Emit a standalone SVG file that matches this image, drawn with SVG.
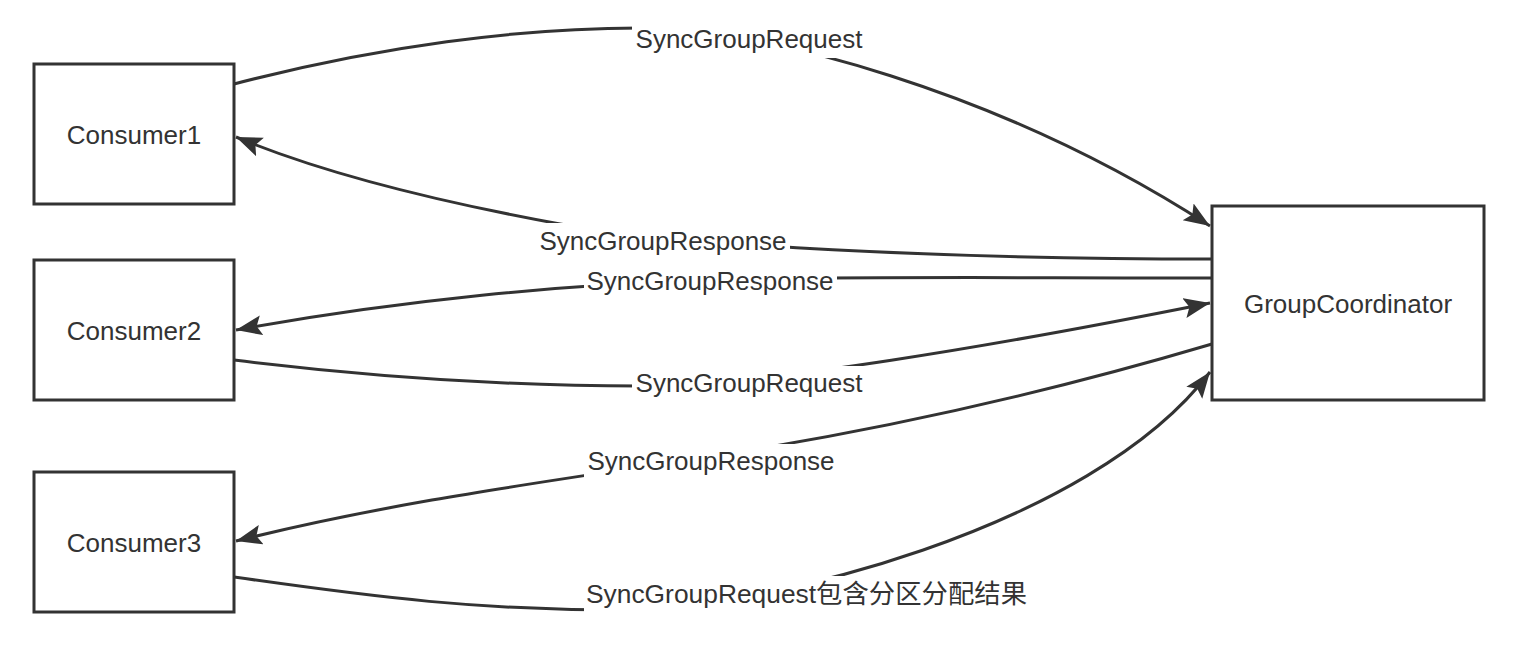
<svg xmlns="http://www.w3.org/2000/svg" width="1516" height="654" viewBox="0 0 1516 654">
  <defs>
    <style>
      .box { fill: #ffffff; stroke: #333333; stroke-width: 3; }
      .txt { font-family: "Liberation Sans", "Noto Sans CJK SC", sans-serif; font-size: 26px; fill: #333333; }
      .edge { fill: none; stroke: #333333; stroke-width: 3; marker-end: url(#arrow); }
      .lblbg { fill: #ffffff; stroke: none; }
    </style>
    <marker id="arrow" markerUnits="userSpaceOnUse" markerWidth="28" markerHeight="22" refX="26" refY="10" orient="auto">
      <path d="M0,0 L26,10 L0,20 L5,10 Z" fill="#333333"/>
    </marker>
  </defs>
  <rect width="1516" height="654" fill="#ffffff"/>

  <g id="connectors">
    <!-- Consumer1 -> GroupCoordinator -->
    <path class="edge" d="M234,84 C380,46 520,28 640,28 S1000,90 1210,226"/>
    <!-- GroupCoordinator -> Consumer1 -->
    <path class="edge" d="M1212,259 C950,259 680,246 560,224 S320,172 236,137"/>
    <!-- GroupCoordinator -> Consumer2 -->
    <path class="edge" d="M1212,278 C1000,278 850,276 710,280 S400,300 236,330"/>
    <!-- Consumer2 -> GroupCoordinator -->
    <path class="edge" d="M234,360 C380,378 520,386 640,386 S1000,345 1210,303"/>
    <!-- GroupCoordinator -> Consumer3 -->
    <path class="edge" d="M1212,344 C1050,392 880,430 720,455 S400,500 236,541"/>
    <!-- Consumer3 -> GroupCoordinator -->
    <path class="edge" d="M234,577 C380,598 480,610 620,610 S1090,530 1210,372"/>

    <g id="label1">
      <rect class="lblbg" x="632" y="24" width="234" height="34"/>
      <text class="txt" x="749" y="48" text-anchor="middle">SyncGroupRequest</text>
    </g>
    <g id="label2">
      <rect class="lblbg" x="538" y="223" width="252" height="35"/>
      <text class="txt" x="663" y="250" text-anchor="middle">SyncGroupResponse</text>
    </g>
    <g id="label3">
      <rect class="lblbg" x="584" y="264" width="253" height="34"/>
      <text class="txt" x="710" y="290" text-anchor="middle">SyncGroupResponse</text>
    </g>
    <g id="label4">
      <rect class="lblbg" x="632" y="366" width="234" height="34"/>
      <text class="txt" x="749" y="392" text-anchor="middle">SyncGroupRequest</text>
    </g>
    <g id="label5">
      <rect class="lblbg" x="584" y="444" width="254" height="34"/>
      <text class="txt" x="711" y="470" text-anchor="middle">SyncGroupResponse</text>
    </g>
    <g id="label6">
      <rect class="lblbg" x="584" y="576" width="446" height="36"/>
      <text class="txt" x="586" y="603" textLength="441" lengthAdjust="spacingAndGlyphs">SyncGroupRequest包含分区分配结果</text>
    </g>
  </g>

  <g id="consumer1">
    <rect class="box" x="34" y="64" width="200" height="140"/>
    <text class="txt" x="134" y="144" text-anchor="middle">Consumer1</text>
  </g>
  <g id="consumer2">
    <rect class="box" x="34" y="260" width="200" height="140"/>
    <text class="txt" x="134" y="340" text-anchor="middle">Consumer2</text>
  </g>
  <g id="consumer3">
    <rect class="box" x="34" y="472" width="200" height="140"/>
    <text class="txt" x="134" y="552" text-anchor="middle">Consumer3</text>
  </g>
  <g id="groupcoordinator">
    <rect class="box" x="1212" y="206" width="272" height="194"/>
    <text class="txt" x="1348" y="313" text-anchor="middle">GroupCoordinator</text>
  </g>
</svg>
